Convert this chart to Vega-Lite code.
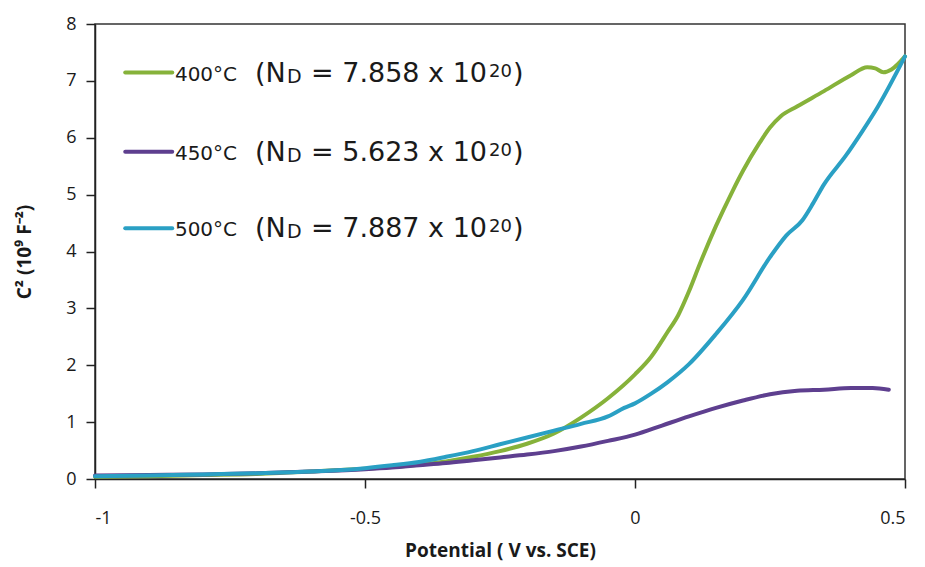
{
  "$schema": "https://vega.github.io/schema/vega-lite/v6.json",
  "width": 810,
  "height": 455,
  "autosize": {"type": "none"},
  "padding": {"left": 95, "top": 24, "right": 20, "bottom": 88},
  "background": "white",
  "config": {
    "view": {"stroke": "#333333", "strokeWidth": 1.5},
    "axis": {
      "grid": false,
      "domainColor": "#222222",
      "domainWidth": 1.5,
      "tickColor": "#222222",
      "tickWidth": 1.5,
      "tickSize": 9,
      "labelFont": "Open Sans",
      "labelFontSize": 18,
      "labelColor": "#1a1a1a",
      "titleFont": "Open Sans",
      "titleFontSize": 19,
      "titleFontWeight": "bold",
      "titleColor": "#1a1a1a"
    }
  },
  "datasets": {
    "curves": [
      {"T": "400°C", "V": -1, "C2": 0.04},
      {"T": "400°C", "V": -0.9, "C2": 0.05},
      {"T": "400°C", "V": -0.8, "C2": 0.07},
      {"T": "400°C", "V": -0.7, "C2": 0.09},
      {"T": "400°C", "V": -0.6, "C2": 0.13},
      {"T": "400°C", "V": -0.5, "C2": 0.18},
      {"T": "400°C", "V": -0.45, "C2": 0.21},
      {"T": "400°C", "V": -0.4, "C2": 0.25},
      {"T": "400°C", "V": -0.35, "C2": 0.31},
      {"T": "400°C", "V": -0.3, "C2": 0.39},
      {"T": "400°C", "V": -0.25, "C2": 0.49},
      {"T": "400°C", "V": -0.2, "C2": 0.62},
      {"T": "400°C", "V": -0.15, "C2": 0.8},
      {"T": "400°C", "V": -0.1, "C2": 1.08},
      {"T": "400°C", "V": -0.05, "C2": 1.42},
      {"T": "400°C", "V": 0, "C2": 1.84},
      {"T": "400°C", "V": 0.03, "C2": 2.15},
      {"T": "400°C", "V": 0.06, "C2": 2.58},
      {"T": "400°C", "V": 0.08, "C2": 2.88},
      {"T": "400°C", "V": 0.1, "C2": 3.3},
      {"T": "400°C", "V": 0.12, "C2": 3.78},
      {"T": "400°C", "V": 0.15, "C2": 4.45},
      {"T": "400°C", "V": 0.18, "C2": 5.05},
      {"T": "400°C", "V": 0.2, "C2": 5.42},
      {"T": "400°C", "V": 0.23, "C2": 5.9},
      {"T": "400°C", "V": 0.25, "C2": 6.18},
      {"T": "400°C", "V": 0.27, "C2": 6.38},
      {"T": "400°C", "V": 0.3, "C2": 6.55},
      {"T": "400°C", "V": 0.35, "C2": 6.82},
      {"T": "400°C", "V": 0.4, "C2": 7.1},
      {"T": "400°C", "V": 0.43, "C2": 7.24},
      {"T": "400°C", "V": 0.445, "C2": 7.22},
      {"T": "400°C", "V": 0.46, "C2": 7.15},
      {"T": "400°C", "V": 0.475, "C2": 7.2},
      {"T": "400°C", "V": 0.5, "C2": 7.43},
      {"T": "450°C", "V": -1, "C2": 0.06},
      {"T": "450°C", "V": -0.9, "C2": 0.07},
      {"T": "450°C", "V": -0.8, "C2": 0.08},
      {"T": "450°C", "V": -0.7, "C2": 0.1},
      {"T": "450°C", "V": -0.6, "C2": 0.13},
      {"T": "450°C", "V": -0.5, "C2": 0.17},
      {"T": "450°C", "V": -0.45, "C2": 0.2},
      {"T": "450°C", "V": -0.4, "C2": 0.24},
      {"T": "450°C", "V": -0.35, "C2": 0.28},
      {"T": "450°C", "V": -0.3, "C2": 0.33},
      {"T": "450°C", "V": -0.25, "C2": 0.38},
      {"T": "450°C", "V": -0.2, "C2": 0.43},
      {"T": "450°C", "V": -0.15, "C2": 0.49},
      {"T": "450°C", "V": -0.1, "C2": 0.57},
      {"T": "450°C", "V": -0.05, "C2": 0.67},
      {"T": "450°C", "V": 0, "C2": 0.78},
      {"T": "450°C", "V": 0.05, "C2": 0.94},
      {"T": "450°C", "V": 0.1, "C2": 1.1},
      {"T": "450°C", "V": 0.15, "C2": 1.25},
      {"T": "450°C", "V": 0.2, "C2": 1.38},
      {"T": "450°C", "V": 0.25, "C2": 1.49},
      {"T": "450°C", "V": 0.3, "C2": 1.55},
      {"T": "450°C", "V": 0.35, "C2": 1.57},
      {"T": "450°C", "V": 0.4, "C2": 1.6},
      {"T": "450°C", "V": 0.44, "C2": 1.6},
      {"T": "450°C", "V": 0.47, "C2": 1.57},
      {"T": "500°C", "V": -1, "C2": 0.05},
      {"T": "500°C", "V": -0.9, "C2": 0.06},
      {"T": "500°C", "V": -0.8, "C2": 0.08},
      {"T": "500°C", "V": -0.7, "C2": 0.1},
      {"T": "500°C", "V": -0.6, "C2": 0.13},
      {"T": "500°C", "V": -0.5, "C2": 0.19},
      {"T": "500°C", "V": -0.45, "C2": 0.24},
      {"T": "500°C", "V": -0.4, "C2": 0.3},
      {"T": "500°C", "V": -0.35, "C2": 0.39},
      {"T": "500°C", "V": -0.3, "C2": 0.49},
      {"T": "500°C", "V": -0.25, "C2": 0.61},
      {"T": "500°C", "V": -0.2, "C2": 0.73},
      {"T": "500°C", "V": -0.15, "C2": 0.85},
      {"T": "500°C", "V": -0.1, "C2": 0.97},
      {"T": "500°C", "V": -0.05, "C2": 1.1},
      {"T": "500°C", "V": -0.02, "C2": 1.25},
      {"T": "500°C", "V": 0, "C2": 1.33},
      {"T": "500°C", "V": 0.03, "C2": 1.5},
      {"T": "500°C", "V": 0.06, "C2": 1.7},
      {"T": "500°C", "V": 0.1, "C2": 2.02},
      {"T": "500°C", "V": 0.15, "C2": 2.55},
      {"T": "500°C", "V": 0.2, "C2": 3.15},
      {"T": "500°C", "V": 0.25, "C2": 3.9},
      {"T": "500°C", "V": 0.28, "C2": 4.28},
      {"T": "500°C", "V": 0.31, "C2": 4.55},
      {"T": "500°C", "V": 0.33, "C2": 4.85},
      {"T": "500°C", "V": 0.35, "C2": 5.18},
      {"T": "500°C", "V": 0.39, "C2": 5.68},
      {"T": "500°C", "V": 0.42, "C2": 6.1},
      {"T": "500°C", "V": 0.45, "C2": 6.55},
      {"T": "500°C", "V": 0.5, "C2": 7.43}
    ],
    "key": [
      {"T": "400°C", "nd": "7.858", "ly": 7.147},
      {"T": "450°C", "nd": "5.623", "ly": 5.755},
      {"T": "500°C", "nd": "7.887", "ly": 4.408}
    ]
  },
  "layer": [
    {
      "data": {"name": "curves"},
      "mark": {"type": "line", "strokeWidth": 4, "interpolate": "monotone", "strokeCap": "round"},
      "encoding": {
        "x": {
          "field": "V",
          "type": "quantitative",
          "scale": {"domain": [-1, 0.5], "nice": false, "zero": false},
          "axis": {
            "values": [-1, -0.5, 0, 0.5],
            "labelExpr": "toString(datum.value)",
            "labelPadding": 21,
            "title": "Potential ( V vs. SCE)",
            "titlePadding": 14
          }
        },
        "y": {
          "field": "C2",
          "type": "quantitative",
          "scale": {"domain": [0, 8], "nice": false},
          "axis": {
            "values": [0, 1, 2, 3, 4, 5, 6, 7, 8],
            "format": "d",
            "labelPadding": 10,
            "title": "C² (10⁹ F⁻²)",
            "titlePadding": 31
          }
        },
        "color": {
          "field": "T",
          "type": "nominal",
          "scale": {"domain": ["400°C", "450°C", "500°C"], "range": ["#86b23a", "#5e3f8f", "#2aa0c4"]},
          "legend": null
        },
        "order": {"field": "V", "type": "quantitative"}
      }
    },
    {
      "data": {"name": "key"},
      "mark": {"type": "rule", "strokeWidth": 4, "strokeCap": "round"},
      "encoding": {
        "x": {"datum": -0.944, "type": "quantitative"},
        "x2": {"datum": -0.857},
        "y": {"field": "ly", "type": "quantitative"},
        "color": {"field": "T", "type": "nominal"}
      }
    },
    {
      "data": {"name": "key"},
      "mark": {"type": "text", "align": "left", "baseline": "alphabetic", "dy": 8, "font": "DejaVu Sans", "fontSize": 20, "color": "#1a1a1a"},
      "encoding": {
        "x": {"datum": -0.852, "type": "quantitative"},
        "y": {"field": "ly", "type": "quantitative"},
        "text": {"field": "T"}
      }
    },
    {
      "data": {"name": "key"},
      "mark": {"type": "text", "align": "left", "baseline": "alphabetic", "dy": 9, "font": "DejaVu Sans", "fontSize": 27, "color": "#1a1a1a", "text": "(N"},
      "encoding": {
        "x": {"datum": -0.7037, "type": "quantitative"},
        "y": {"field": "ly", "type": "quantitative"}
      }
    },
    {
      "data": {"name": "key"},
      "mark": {"type": "text", "align": "left", "baseline": "alphabetic", "dy": 10, "font": "DejaVu Sans", "fontSize": 19, "color": "#1a1a1a", "text": "D"},
      "encoding": {
        "x": {"datum": -0.6444, "type": "quantitative"},
        "y": {"field": "ly", "type": "quantitative"}
      }
    },
    {
      "data": {"name": "key"},
      "transform": [{"calculate": "'= ' + datum.nd + ' x 10'", "as": "body"}],
      "mark": {"type": "text", "align": "left", "baseline": "alphabetic", "dy": 9, "font": "DejaVu Sans", "fontSize": 27, "color": "#1a1a1a"},
      "encoding": {
        "x": {"datum": -0.6, "type": "quantitative"},
        "y": {"field": "ly", "type": "quantitative"},
        "text": {"field": "body"}
      }
    },
    {
      "data": {"name": "key"},
      "mark": {"type": "text", "align": "left", "baseline": "alphabetic", "dy": 4, "font": "DejaVu Sans", "fontSize": 18, "color": "#1a1a1a", "text": "20"},
      "encoding": {
        "x": {"datum": -0.2704, "type": "quantitative"},
        "y": {"field": "ly", "type": "quantitative"}
      }
    },
    {
      "data": {"name": "key"},
      "mark": {"type": "text", "align": "left", "baseline": "alphabetic", "dy": 9, "font": "DejaVu Sans", "fontSize": 27, "color": "#1a1a1a", "text": ")"},
      "encoding": {
        "x": {"datum": -0.2259, "type": "quantitative"},
        "y": {"field": "ly", "type": "quantitative"}
      }
    }
  ]
}
